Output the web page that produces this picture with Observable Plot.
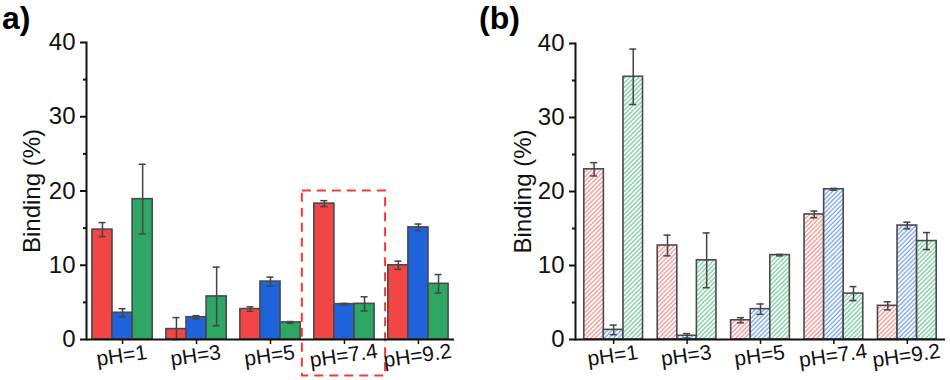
<!DOCTYPE html>
<html>
<head>
<meta charset="utf-8">
<script src="https://cdn.jsdelivr.net/npm/d3@7"></script>
<script src="https://cdn.jsdelivr.net/npm/@observablehq/plot@0.6"></script>
<style>
  html, body { margin: 0; padding: 0; background: #fff; }
  #wrap { position: relative; width: 950px; height: 380px; display: flex; font-family: "Liberation Sans", Arial, sans-serif; }
  .panel { position: relative; width: 475px; height: 380px; }
  .tag { position: absolute; font-weight: bold; font-size: 32px; line-height: 1; color: #000; }
</style>
</head>
<body>
<div id="wrap">
  <div class="panel" id="pa"><div class="tag" style="left:2px;top:2px">a)</div></div>
  <div class="panel" id="pb"><div class="tag" style="left:4px;top:2px">(b)</div></div>
</div>
<script>
// ---- data ----
const phLabels = ["pH=1", "pH=3", "pH=5", "pH=7.4", "pH=9.2"];
const seriesNames = ["S1", "S2", "S3"];
const yTicks = [0, 10, 20, 30, 40];
const yMinorTicks = [5, 15, 25, 35];

// panel a values and errors
const aRed = [14.8, 1.4, 4.1, 18.3, 10.0];
const aRedErr = [0.95, 1.55, 0.3, 0.4, 0.55];
const aBlue = [3.6, 3.0, 7.8, 4.75, 15.1];
const aBlueErr = [0.55, 0.2, 0.6, 0.12, 0.45];
const aGreen = [18.9, 5.8, 2.3, 4.8, 7.5];
const aGreenErr = [4.7, 3.95, 0.12, 0.95, 1.25];

// panel b values and errors
const bRed = [23.0, 12.7, 2.6, 16.9, 4.55];
const bRedErr = [0.9, 1.4, 0.35, 0.45, 0.55];
const bBlue = [1.3, 0.5, 4.1, 20.3, 15.4];
const bBlueErr = [0.65, 0.3, 0.7, 0.12, 0.45];
const bGreen = [35.5, 10.7, 11.4, 6.2, 13.3];
const bGreenErr = [3.75, 3.7, 0.1, 0.95, 1.15];

// highlighted region in panel a (pH=7.4 group)
const highlight = [{ph: "pH=7.4", from: -4.9, to: 20}];

// ---- build ----
function rows(vals, errs) {
  return phLabels.map((ph, i) => ({ph, v: vals[i], lo: vals[i] - errs[i], hi: vals[i] + errs[i]}));
}

const font = '"Liberation Sans", Arial, sans-serif';

function makePanel({series, fills, ml, mr, mt, mb, pi, po, labelDx, extra = [], defs = null}) {
  const W = 475, H = 380;
  const step = (W - ml - mr) / (phLabels.length - pi + 2 * po);
  const bw = step * (1 - pi);
  const third = bw / 3;
  const marks = [];
  series.forEach((data, j) => {
    marks.push(Plot.barY(data, {
      x: "ph", y: "v", fill: fills[j], stroke: "#4a4a4a", strokeWidth: 1.6,
      insetLeft: j * third, insetRight: (2 - j) * third
    }));
  });
  series.forEach((data, j) => {
    const dx = (j - 1) * third;
    marks.push(Plot.ruleX(data, {x: "ph", y1: d => Math.max(0, d.lo), y2: "hi", dx, stroke: "#444", strokeWidth: 1.5}));
    const capL = j * third + third / 2 - 3.5, capR = (2 - j) * third + third / 2 - 3.5;
    marks.push(Plot.tickY(data, {x: "ph", y: "hi", insetLeft: capL, insetRight: capR, stroke: "#444", strokeWidth: 1.5}));
    marks.push(Plot.tickY(data, {x: "ph", y: d => Math.max(0, d.lo), insetLeft: capL, insetRight: capR, stroke: "#444", strokeWidth: 1.5}));
  });
  marks.push(...extra);
  marks.push(Plot.ruleY([0], {stroke: "#111", strokeWidth: 2}));
  marks.push(Plot.frame({anchor: "left", stroke: "#111", strokeWidth: 2}));
  marks.push(Plot.axisY({ticks: yTicks, tickSize: 6, tickPadding: 5, strokeWidth: 2, label: null, tickFormat: d => String(d), fontSize: 24}));
  marks.push(Plot.axisY({ticks: yMinorTicks, tickSize: 3, strokeWidth: 2, label: null, tickFormat: () => ""}));
  marks.push(Plot.axisX({tickSize: 5, strokeWidth: 1.5, label: null, tickFormat: () => ""}));
  marks.push(Plot.text(phLabels, {x: d => d, frameAnchor: "bottom", dy: 23, rotate: -8, textAnchor: "middle", fontSize: 21, fill: "#111"}));
  marks.push(Plot.text(["Binding (%)"], {frameAnchor: "left", dx: labelDx, rotate: -90, textAnchor: "middle", fontSize: 24, fill: "#111"}));
  const svg = Plot.plot({
    width: W, height: H,
    marginLeft: ml, marginRight: mr, marginTop: mt, marginBottom: mb,
    style: {fontFamily: font, fontSize: "22px", color: "#111", background: "transparent", overflow: "visible"},
    x: {domain: phLabels, paddingInner: pi, paddingOuter: po, round: false, axis: null},
    y: {domain: [0, 40], axis: null},
    marks
  });
  if (defs) svg.insertBefore(defs(), svg.firstChild);
  return svg;
}

function hatchDefs() {
  const ns = "http://www.w3.org/2000/svg";
  const d = document.createElementNS(ns, "defs");
  const cols = {hr: "#f49494", hb: "#7aa3ee", hg: "#78cca0"};
  for (const [id, c] of Object.entries(cols)) {
    const p = document.createElementNS(ns, "pattern");
    p.setAttribute("id", id);
    p.setAttribute("patternUnits", "userSpaceOnUse");
    p.setAttribute("width", "3.2");
    p.setAttribute("height", "10");
    p.setAttribute("patternTransform", "rotate(45)");
    const r = document.createElementNS(ns, "rect");
    r.setAttribute("width", "3.2"); r.setAttribute("height", "10"); r.setAttribute("fill", "#fff");
    const l = document.createElementNS(ns, "line");
    l.setAttribute("x1", "1"); l.setAttribute("x2", "1"); l.setAttribute("y1", "0"); l.setAttribute("y2", "10");
    l.setAttribute("stroke", c); l.setAttribute("stroke-width", "1.3");
    p.appendChild(r); p.appendChild(l);
    d.appendChild(p);
  }
  return d;
}

const panelA = makePanel({
  series: [rows(aRed, aRedErr), rows(aBlue, aBlueErr), rows(aGreen, aGreenErr)],
  fills: ["#f24545", "#1f63dc", "#2ea765"],
  ml: 86, mr: 21, mt: 42, mb: 41, pi: 0.185, po: 0.08, labelDx: -54,
  extra: [Plot.barY(highlight, {x: "ph", y1: "from", y2: "to", fill: "none", stroke: "#f03a3a", strokeWidth: 2, strokeDasharray: "9,6", insetLeft: -12, insetRight: -11})]
});
document.getElementById("pa").appendChild(panelA);

const panelB = makePanel({
  series: [rows(bRed, bRedErr), rows(bBlue, bBlueErr), rows(bGreen, bGreenErr)],
  fills: ["url(#hr)", "url(#hb)", "url(#hg)"],
  ml: 100, mr: 5, mt: 43, mb: 41, pi: 0.2, po: 0.12, labelDx: -52,
  defs: hatchDefs
});
document.getElementById("pb").appendChild(panelB);
</script>
</body>
</html>
